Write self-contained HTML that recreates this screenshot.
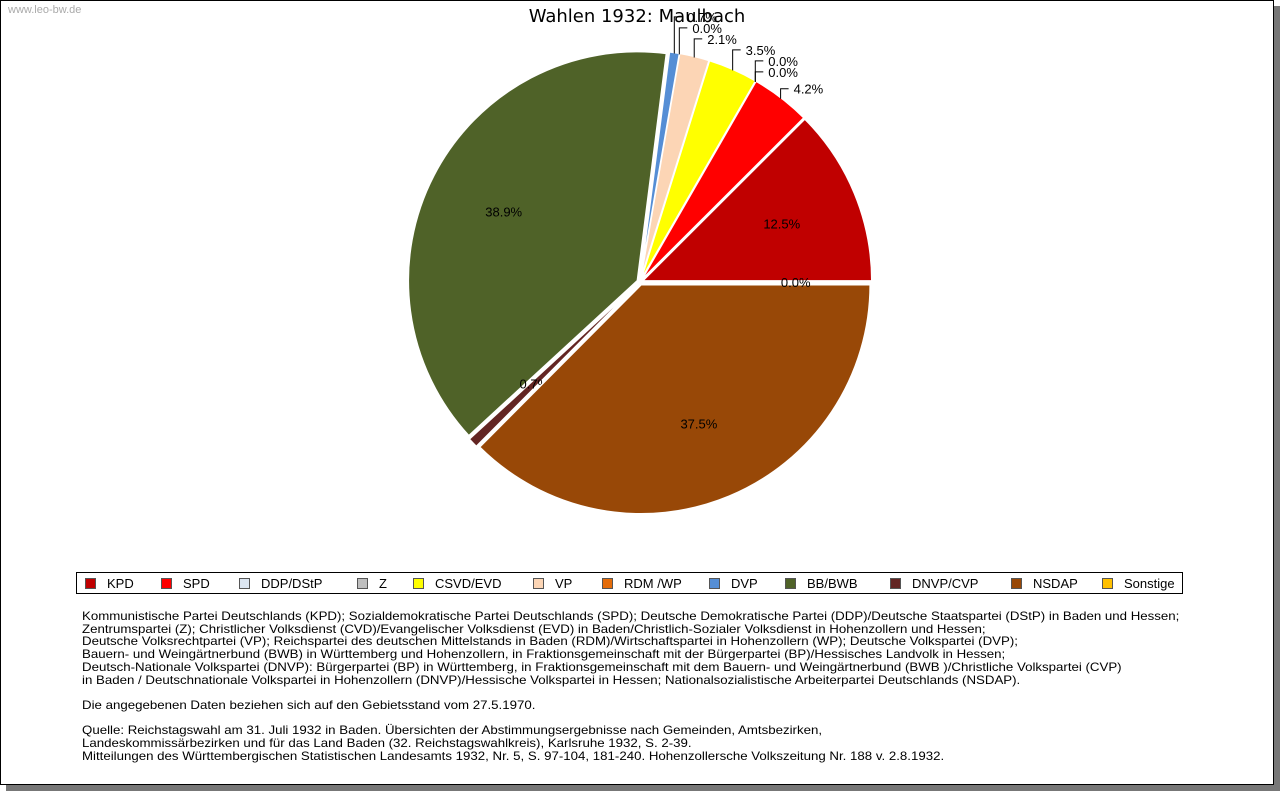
<!DOCTYPE html>
<html><head><meta charset="utf-8"><style>
body{margin:0;background:#fff;width:1280px;height:791px;overflow:hidden;font-family:"Liberation Sans",sans-serif}
#frame{position:absolute;left:0;top:0;width:1272px;height:783px;border:1px solid #000;background:#fff;box-shadow:6px 6px 0 #777}
#wm{position:absolute;left:8px;top:4px;font-size:11px;color:#aaa}
#legend{position:absolute;left:76px;top:572px;width:1105px;height:20px;border:1px solid #000;font-size:13px}
.li{position:absolute;top:3px;white-space:nowrap}
.sw{display:inline-block;width:9px;height:9px;border:1px solid #555;margin-right:11px;vertical-align:-1px}
#notes{position:absolute;left:82px;top:610px;font-size:12px;line-height:12.7px;color:#000;white-space:pre;transform:scaleX(1.105);transform-origin:0 0}
</style></head><body>
<div id="frame"></div>
<div id="wm">www.leo-bw.de</div>
<svg id="pie" width="1280" height="570" style="position:absolute;left:0;top:0">
<text x="637" y="22" text-anchor="middle" font-size="18" font-family="DejaVu Sans, sans-serif">Wahlen 1932: Maulbach</text>
</svg>
<div id="legend"></div>
<div id="notes">Kommunistische Partei Deutschlands (KPD); Sozialdemokratische Partei Deutschlands (SPD); Deutsche Demokratische Partei (DDP)/Deutsche Staatspartei (DStP) in Baden und Hessen;
Zentrumspartei (Z); Christlicher Volksdienst (CVD)/Evangelischer Volksdienst (EVD) in Baden/Christlich-Sozialer Volksdienst in Hohenzollern und Hessen;
Deutsche Volksrechtpartei (VP); Reichspartei des deutschen Mittelstands in Baden (RDM)/Wirtschaftspartei in Hohenzollern (WP); Deutsche Volkspartei (DVP);
Bauern- und Weingärtnerbund (BWB) in Württemberg und Hohenzollern, in Fraktionsgemeinschaft mit der Bürgerpartei (BP)/Hessisches Landvolk in Hessen;
Deutsch-Nationale Volkspartei (DNVP): Bürgerpartei (BP) in Württemberg, in Fraktionsgemeinschaft mit dem Bauern- und Weingärtnerbund (BWB )/Christliche Volkspartei (CVP)
in Baden / Deutschnationale Volkspartei in Hohenzollern (DNVP)/Hessische Volkspartei in Hessen; Nationalsozialistische Arbeiterpartei Deutschlands (NSDAP).

Die angegebenen Daten beziehen sich auf den Gebietsstand vom 27.5.1970.

Quelle: Reichstagswahl am 31. Juli 1932 in Baden. Übersichten der Abstimmungsergebnisse nach Gemeinden, Amtsbezirken,
Landeskommissärbezirken und für das Land Baden (32. Reichstagswahlkreis), Karlsruhe 1932, S. 2-39.
Mitteilungen des Württembergischen Statistischen Landesamts 1932, Nr. 5, S. 97-104, 181-240. Hohenzollersche Volkszeitung Nr. 188 v. 2.8.1932.</div>
<script>
const parties=["KPD","SPD","DDP/DStP","Z","CSVD/EVD","VP","RDM /WP","DVP","BB/BWB","DNVP/CVP","NSDAP","Sonstige"];
const values=[12.5,4.2,0.0,0.0,3.5,2.1,0.0,0.7,38.9,0.7,37.5,0.0];
const colors=["#c00000","#ff0000","#dce6f2","#bfbfbf","#ffff00","#fcd5b5","#e46c0a","#558ed5","#4f6228","#632523","#984807","#ffc000"];
const legendX=[84,160,238,356,412,532,601,708,784,889,1010,1101];
const svg=document.getElementById('pie');const NS="http://www.w3.org/2000/svg";
const cx=640,cy=282,R=229,total=values.reduce((a,b)=>a+b,0);
function pt(a,r){return [cx+r*Math.cos(a),cy-r*Math.sin(a)];}
let start=0;let outside=[];
values.forEach((v,i)=>{
  const sweep=v/total*2*Math.PI,mid=start+sweep/2,ex=3;
  const ox=ex*Math.cos(mid),oy=-ex*Math.sin(mid);
  if(v>0){
    const p1=pt(start,R),p2=pt(start+sweep,R);
    const path=document.createElementNS(NS,'path');
    path.setAttribute('d',`M${cx+ox},${cy+oy} L${p1[0]+ox},${p1[1]+oy} A${R},${R} 0 ${sweep>Math.PI?1:0} 0 ${p2[0]+ox},${p2[1]+oy} Z`);
    path.setAttribute('fill',colors[i]);path.setAttribute('stroke','#fff');path.setAttribute('stroke-width','1.5');
    
    
    svg.appendChild(path);
  }
  const lbl=v.toFixed(1)+'%';
  if(v>=5||(i==values.length-1)||(i==9)){
    let rr=v>=5?0.67*R:(i==9?0.64*R:0.68*R);
    const p=pt(mid,rr);
    const t=document.createElementNS(NS,'text');
    t.setAttribute('x',p[0]);t.setAttribute('y',p[1]+5);t.setAttribute('text-anchor','middle');t.setAttribute('font-size','13');
    t.textContent=lbl;
    
    
    svg.appendChild(t);
  } else outside.push({mid,lbl});
  start+=sweep;
});
let prevY=1e9;
outside.forEach((o,k)=>{
  const e=pt(o.mid,R+2);
  let y=e[1]-10; if(y>prevY-11) y=prevY-11; prevY=y;
  const line=document.createElementNS(NS,'polyline');
  line.setAttribute('points',`${e[0]},${e[1]} ${e[0]},${y} ${e[0]+8},${y}`);
  if(o.mid<0.6) line.setAttribute('points',`${e[0]+2},${e[1]-1} ${e[0]+12},${e[1]-1}`);
  line.setAttribute('fill','none');line.setAttribute('stroke','#000');
  
  
  svg.appendChild(line);
  const t=document.createElementNS(NS,'text');
  if(o.mid<0.6){t.setAttribute('x',e[0]+15);t.setAttribute('y',e[1]+4);}
  else{t.setAttribute('x',e[0]+13);t.setAttribute('y',y+5);}
  t.setAttribute('font-size','13');t.textContent=o.lbl;
  
  
  svg.appendChild(t);
});
const lg=document.getElementById('legend');
parties.forEach((p,i)=>{
  const d=document.createElement('div');d.className='li';d.style.left=(legendX[i]-76)+'px';
  
  
  d.innerHTML=`<span class="sw" style="background:${colors[i]}"></span>${p}`;
  lg.appendChild(d);
});
</script>
</body></html>
